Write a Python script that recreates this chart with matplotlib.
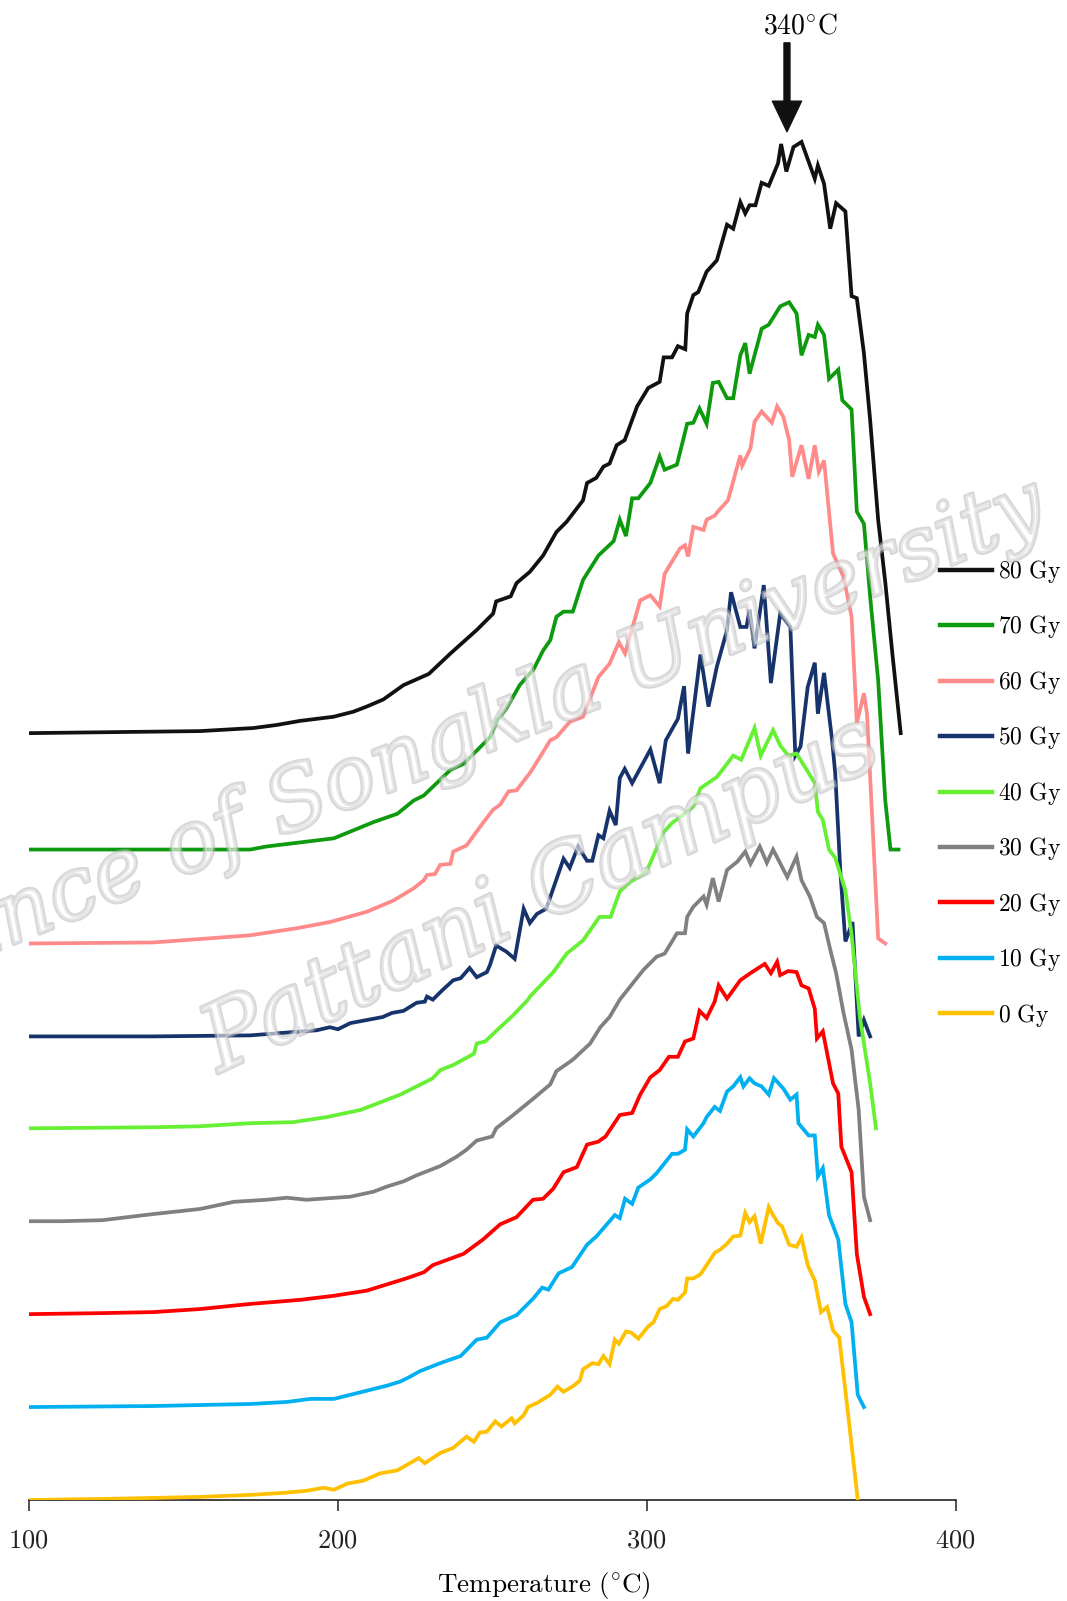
import matplotlib
matplotlib.use("Agg")
import matplotlib.pyplot as plt
import matplotlib.patheffects as pe

plt.rcParams['mathtext.fontset'] = 'cm'
plt.rcParams['font.family'] = ['DejaVu Serif']

# ---------------- data (temperature in degC, intensity in a.u.) ----------------
labels = ['80 Gy', '70 Gy', '60 Gy', '50 Gy', '40 Gy', '30 Gy', '20 Gy', '10 Gy', '0 Gy']
offsets = [751, 637, 545, 454, 364, 273, 182, 91, 0]
colors = ['#111111', '#0e9a0e', '#ff8a8a', '#17336b', '#66f033', '#808080', '#ff0000', '#00b0f0', '#ffc000']

t80 = [100.0,127.3,155.5,172.7,180.3,187.8,198.6,205.1,209.4,214.8,221.3,229.5,236.5,245.0,250.3,251.3,256.0,257.9,262.2,266.5,270.8,274.1,279.4,280.7,283.7,286.0,288.0,290.3,292.9,296.9,300.5,304.2,305.5,308.2,310.1,312.5,313.1,315.1,316.7,319.4,322.7,326.0,328.0,330.3,331.9,333.3,335.2,337.2,339.5,342.5,343.5,345.2,347.5,350.1,354.4,355.4,357.4,359.4,361.3,364.3,366.3,368.0,370.3,372.3,374.9,377.2,379.5,382.2]
i80 = [0,1,2,5,8,12,16,21,26,33,47,58,78,101,117,129,134,147,158,174,197,207,228,245,250,261,264,282,287,320,338,344,368,368,379,376,411,429,432,452,463,498,494,520,509,517,517,539,536,558,577,550,574,579,543,556,538,494,519,511,428,426,372,307,209,148,78,0]

t70 = [100.0,157.5,171.7,177.0,198.8,211.7,219.3,224.6,227.9,236.5,240.8,249.3,251.7,254.6,258.9,263.5,266.5,268.8,270.8,273.1,276.1,279.4,284.4,289.3,291.3,293.3,295.3,297.3,301.2,304.2,305.8,309.8,313.1,315.1,317.1,319.4,321.4,323.3,326.0,328.0,330.3,331.9,333.3,337.2,339.5,343.2,346.1,348.5,350.1,352.4,354.4,355.4,357.4,359.0,362.0,363.3,366.3,368.0,370.3,372.3,374.9,377.2,378.9,381.5]
i70 = [0,0,0,3,11,27,35,48,53,78,84,110,127,138,161,177,195,205,228,233,233,264,288,302,323,307,344,344,359,385,372,377,417,418,432,417,457,458,442,442,484,496,466,510,514,532,536,525,484,504,502,514,504,461,470,440,431,331,319,248,166,48,0,0]

t60 = [100.0,140.3,171.7,186.9,197.5,209.4,218.0,224.6,227.9,228.9,231.5,233.2,236.5,237.4,241.7,247.0,250.3,252.6,255.3,257.9,262.2,263.5,268.8,270.8,275.1,279.4,284.4,288.0,291.0,293.0,297.9,301.2,304.2,305.8,310.8,312.4,313.4,315.1,318.4,319.4,322.0,323.3,326.3,330.3,330.9,333.6,334.9,337.2,340.5,342.2,344.2,346.1,347.1,350.1,352.4,354.4,355.7,357.4,360.3,363.7,366.3,368.0,370.3,371.3,374.9,377.2]
i60 = [0,1,8,15,21,31,42,54,62,67,68,77,78,90,96,118,131,136,149,150,167,173,199,202,217,222,261,274,295,284,336,341,330,362,387,390,379,408,405,415,419,424,434,478,468,485,511,521,510,526,516,493,457,488,455,488,462,473,382,359,320,216,245,225,5,0]

t50 = [100.0,140.3,171.7,193.2,197.5,200.1,204.1,214.6,217.6,221.3,225.6,228.2,228.9,230.8,233.8,237.4,239.8,242.7,245.0,248.3,249.3,251.3,254.6,257.3,260.2,262.2,264.5,267.5,273.1,275.1,277.8,280.7,282.4,284.4,286.0,288.0,290.0,291.3,292.9,295.3,301.2,304.2,306.2,310.1,312.1,313.4,317.4,320.0,322.7,326.0,327.3,330.3,332.3,333.3,334.9,337.9,340.2,343.2,346.5,348.1,349.8,352.1,354.4,355.4,357.4,360.0,361.0,362.7,364.3,365.3,366.6,368.6,370.3,372.3]
i50 = [0,0,1,6,9,7,13,19,23,25,33,34,39,36,45,55,57,67,58,63,70,89,83,76,125,111,120,125,174,165,186,172,172,197,194,221,207,253,262,248,281,248,290,311,343,277,374,323,362,398,435,401,401,418,380,442,346,414,401,275,284,342,366,316,356,290,258,160,93,101,112,0,16,0]

t40 = [100.0,140.3,155.5,171.7,185.6,196.5,207.4,220.3,230.8,233.2,237.4,244.1,245.0,247.7,252.6,256.9,261.6,262.2,269.8,274.1,279.4,284.7,288.3,291.3,294.6,299.9,301.9,305.5,308.2,311.8,315.1,317.4,322.7,326.0,328.0,330.6,334.9,336.9,340.9,343.2,345.8,348.5,351.8,354.4,355.4,357.0,359.0,361.0,364.3,366.3,369.0,372.3,374.2]
i40 = [0,1,2,5,6,11,18,33,49,57,62,73,83,85,99,111,126,129,153,171,184,207,207,232,241,251,265,290,299,307,315,333,344,357,365,361,392,365,390,375,365,367,351,338,310,302,273,265,233,190,109,44,0]

t30 = [100.0,110.6,123.8,140.3,155.5,166.4,177.0,183.6,189.9,204.1,211.7,216.0,221.3,225.6,233.2,238.4,241.7,245.0,250.0,251.3,256.0,262.9,268.8,270.8,275.1,276.4,281.7,285.0,288.0,291.3,298.9,303.2,305.8,309.8,312.4,313.1,315.1,318.4,319.4,321.4,323.3,326.0,329.3,331.9,333.6,336.6,338.9,340.9,345.5,348.5,350.1,352.8,355.1,357.4,359.4,361.3,363.7,366.3,368.6,370.3,372.3]
i30 = [0,0,1,7,12,19,21,23,21,24,29,34,39,45,54,63,70,79,83,91,102,119,134,147,156,159,174,190,200,217,246,259,262,282,282,298,308,318,310,336,313,344,352,362,350,367,351,364,337,357,334,318,298,292,266,243,204,168,109,24,1]

t20 = [100.0,123.8,140.3,155.5,171.7,187.9,198.8,209.4,213.7,222.2,227.9,230.8,240.7,247.0,252.6,257.9,263.2,266.5,269.8,273.1,277.4,280.7,284.4,286.7,291.3,295.3,297.9,301.2,304.2,307.2,310.1,312.4,315.1,317.1,319.4,322.0,323.3,326.0,330.3,333.6,338.2,340.2,342.2,343.2,345.8,348.5,350.1,352.4,354.4,355.1,357.0,360.3,362.0,363.0,366.3,367.3,368.0,370.3,372.3]
i20 = [0,1,2,5,10,14,18,23,27,35,41,48,59,73,88,95,112,113,123,139,144,166,169,174,195,197,215,232,239,252,252,267,270,297,290,306,322,309,327,334,343,334,345,332,336,335,322,319,299,270,277,226,216,164,139,92,59,17,0]

t10 = [100.0,140.3,155.5,171.7,183.6,191.2,198.8,204.1,209.4,216.0,220.3,223.6,226.5,233.2,239.8,245.0,248.3,252.6,257.9,263.2,266.2,268.2,271.5,275.8,280.7,283.7,289.7,291.3,293.0,295.3,297.3,301.2,303.2,308.2,310.1,312.4,313.1,315.1,318.4,319.4,322.0,323.7,326.0,328.0,330.3,331.3,333.3,334.9,337.2,339.5,341.2,344.2,346.5,348.5,349.1,352.4,354.4,355.4,357.0,359.0,362.0,364.3,366.3,368.3,370.3]
i10 = [0,1,2,3,5,8,8,12,16,21,25,30,35,43,50,66,68,83,90,106,117,115,131,137,159,167,188,185,204,199,215,223,229,248,248,252,272,265,278,284,294,290,309,314,323,314,322,317,314,306,322,312,301,306,278,266,266,226,234,188,164,101,83,12,0]

t0 = [100.0,123.8,140.3,155.5,171.7,182.6,189.9,195.5,198.8,203.1,208.4,213.7,219.3,222.2,226.2,228.2,233.2,237.4,241.7,244.1,246.0,248.3,251.0,253.0,256.3,257.3,260.2,261.6,264.5,268.8,271.1,273.1,276.4,278.4,279.4,282.4,284.4,286.0,288.0,289.7,291.0,293.3,294.9,297.3,300.5,302.2,304.2,306.5,308.5,310.1,312.4,313.1,315.1,317.4,319.4,322.0,323.7,326.0,328.0,330.3,331.9,333.3,334.9,336.9,339.5,340.9,342.5,343.8,346.1,348.5,350.1,352.1,354.4,356.4,358.4,360.3,362.3,365.3,368.3]
i0 = [0,1,2,3,5,7,9,12,10,16,19,26,29,34,41,36,46,51,62,57,66,67,77,72,80,75,83,91,95,103,111,106,112,117,128,134,133,141,133,157,153,165,164,158,170,174,187,190,197,196,203,217,217,221,230,242,245,251,258,259,281,272,278,251,287,279,271,268,250,248,257,230,215,184,189,166,159,81,0]

temps = [t80, t70, t60, t50, t40, t30, t20, t10, t0]
intens = [i80, i70, i60, i50, i40, i30, i20, i10, i0]

xticks = [100, 200, 300, 400]
peak_T = 345.4
peak_label = '340'

# ---------------- figure ----------------
fig = plt.figure(figsize=(10.67, 16.01), dpi=100)
ax = fig.add_axes([0.0268, 0.0631, 0.8689, 0.9369])
ax.patch.set_alpha(0)

for t, i, off, c, lab in zip(temps, intens, offsets, colors, labels):
    ax.plot(t, [v + off for v in i], color=c, lw=2.7, label=r'$\mathrm{' + lab.replace(' ', r'\ ') + '}$',
            solid_joinstyle='miter', zorder=3)

ax.set_xlim(100, 400)
ax.set_ylim(0, 1469)
for s in ['left', 'right', 'top']:
    ax.spines[s].set_visible(False)
ax.spines['bottom'].set_linewidth(1.2)
ax.spines['bottom'].set_color('#222222')
ax.set_yticks([])
ax.set_xticks(xticks)
ax.set_xticklabels(['$%d$' % v for v in xticks], fontsize=19)
ax.tick_params(axis='x', direction='out', length=8, width=1.1, pad=12, colors='#222222')
xl = ax.set_xlabel(r'$\mathrm{Temperature\ (^{\circ}C)}$', fontsize=19.5)
xl.set_va('center')
ax.xaxis.set_label_coords(0.556, -0.0567)

leg = ax.legend(loc='upper left', bbox_to_anchor=(940 / 1067, 1 - 558 / 1601), bbox_transform=fig.transFigure,
                frameon=False, fontsize=17, handlelength=2.2, handletextpad=0.25, labelspacing=1.205,
                borderpad=0, borderaxespad=0)
for line in leg.get_lines():
    line.set_linewidth(3.2)

ax.annotate('', xy=(peak_T, 1340), xytext=(peak_T, 1427),
            arrowprops=dict(facecolor='#111111', edgecolor='#111111', width=4.3, headwidth=21,
                            headlength=22, shrink=0), annotation_clip=False)
ax.text(349.6, 1444, r'$\mathrm{' + peak_label + r'^{\circ}C}$', ha='center', va='center', fontsize=20,
        clip_on=False)

# watermark
wm_fx = [pe.withStroke(linewidth=3, foreground=(0.72, 0.72, 0.72, 0.55))]
fig.text(462 / 1067, 1 - 738 / 1601, 'Prince of Songkla University', rotation=22, ha='center', va='center',
         fontsize=62, fontstyle='italic', family='DejaVu Serif', color=(1, 1, 1, 0.35), path_effects=wm_fx,
         zorder=5)
fig.text(541 / 1067, 1 - 895 / 1601, 'Pattani Campus', rotation=25, ha='center', va='center',
         fontsize=66, fontstyle='italic', family='DejaVu Serif', color=(1, 1, 1, 0.35), path_effects=wm_fx,
         zorder=5)

fig.savefig('out.png', dpi=100)
